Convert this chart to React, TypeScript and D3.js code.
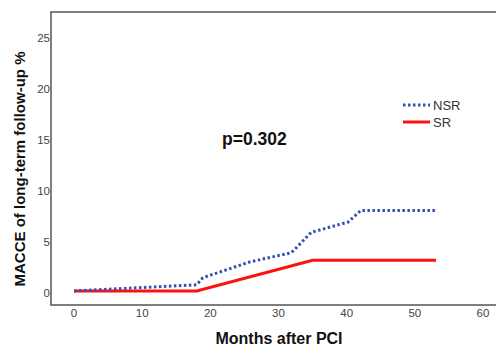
import { useRef, useEffect } from "react";
import * as d3 from "d3";

// months after PCI vs cumulative MACCE %
const nsrMonths = [0, 18, 18.9, 25.8, 31.9, 34.8, 40.2, 42.1, 53.1];
const nsrValues = [0.2, 0.8, 1.5, 3.05, 3.95, 5.95, 6.95, 8.1, 8.1];
const srMonths = [0, 18, 35, 53.1];
const srValues = [0.2, 0.2, 3.2, 3.2];

const xTicks = [0, 10, 20, 30, 40, 50, 60];
const yTicks = [0, 5, 10, 15, 20, 25];
const seriesNames = ["NSR", "SR"];
const pLabel = "p=0.302";

const FONT = "Arial, 'Liberation Sans', sans-serif";

export default function App() {
  const svgRef = useRef<SVGSVGElement>(null);

  useEffect(() => {
    const left = 51;
    const top = 12;
    const bottom = 305;
    const right = 497;

    const svg = d3.select(svgRef.current);
    svg.selectAll("*").remove();

    const x = d3.scaleLinear().domain([0, 60]).range([74, 483]);
    const y = d3.scaleLinear().domain([0, 25]).range([293, 38]);

    // frame (no right edge visible)
    svg
      .append("path")
      .attr("d", `M${right},${top}H${left}V${bottom}H${right}`)
      .attr("fill", "none")
      .attr("stroke", "#555")
      .attr("stroke-width", 1.5);

    svg
      .append("g")
      .selectAll("text")
      .data(yTicks)
      .join("text")
      .attr("x", 50)
      .attr("y", (d) => y(d))
      .attr("dy", "0.35em")
      .attr("text-anchor", "end")
      .attr("fill", "#444")
      .style("font-family", FONT)
      .style("font-size", "11.5px")
      .text((d) => d);

    svg
      .append("g")
      .selectAll("text")
      .data(xTicks)
      .join("text")
      .attr("x", (d) => x(d))
      .attr("y", 317)
      .attr("text-anchor", "middle")
      .attr("fill", "#444")
      .style("font-family", FONT)
      .style("font-size", "11.5px")
      .text((d) => d);

    svg
      .append("text")
      .attr("transform", "translate(25,169) rotate(-90)")
      .attr("text-anchor", "middle")
      .attr("fill", "#111")
      .style("font-family", FONT)
      .style("font-size", "15px")
      .style("font-weight", "bold")
      .text("MACCE of long-term follow-up %");

    svg
      .append("text")
      .attr("x", 279)
      .attr("y", 344)
      .attr("text-anchor", "middle")
      .attr("fill", "#111")
      .style("font-family", FONT)
      .style("font-size", "16px")
      .style("font-weight", "bold")
      .text("Months after PCI");

    const line = d3
      .line<[number, number]>()
      .x((d) => x(d[0]))
      .y((d) => y(d[1]));

    svg
      .append("path")
      .attr("d", line(srMonths.map((m, i) => [m, srValues[i]]))!)
      .attr("fill", "none")
      .attr("stroke", "#ff1010")
      .attr("stroke-width", 3);

    svg
      .append("path")
      .attr("d", line(nsrMonths.map((m, i) => [m, nsrValues[i]]))!)
      .attr("fill", "none")
      .attr("stroke", "#3550b0")
      .attr("stroke-width", 3)
      .attr("stroke-dasharray", "2.5 2.5");

    svg
      .append("text")
      .attr("x", 222)
      .attr("y", 145)
      .attr("fill", "#111")
      .style("font-family", FONT)
      .style("font-size", "17.5px")
      .style("font-weight", "bold")
      .text(pLabel);

    const legend = svg.append("g").attr("transform", "translate(403,105)");
    seriesNames.forEach((name, i) => {
      const row = legend.append("g").attr("transform", `translate(0,${i * 17})`);
      row
        .append("line")
        .attr("x1", 0)
        .attr("x2", 27)
        .attr("stroke", name === "NSR" ? "#3550b0" : "#ff1010")
        .attr("stroke-width", 3)
        .attr("stroke-dasharray", name === "NSR" ? "2.5 2.5" : null);
      row
        .append("text")
        .attr("x", 30)
        .attr("dy", "0.35em")
        .attr("fill", "#333")
        .style("font-family", FONT)
        .style("font-size", "13px")
        .text(name);
    });
  }, []);

  return (
    <svg
      ref={svgRef}
      width={496}
      height={348}
      style={{ position: "absolute", left: 0, top: 0, background: "#fff" }}
    />
  );
}
